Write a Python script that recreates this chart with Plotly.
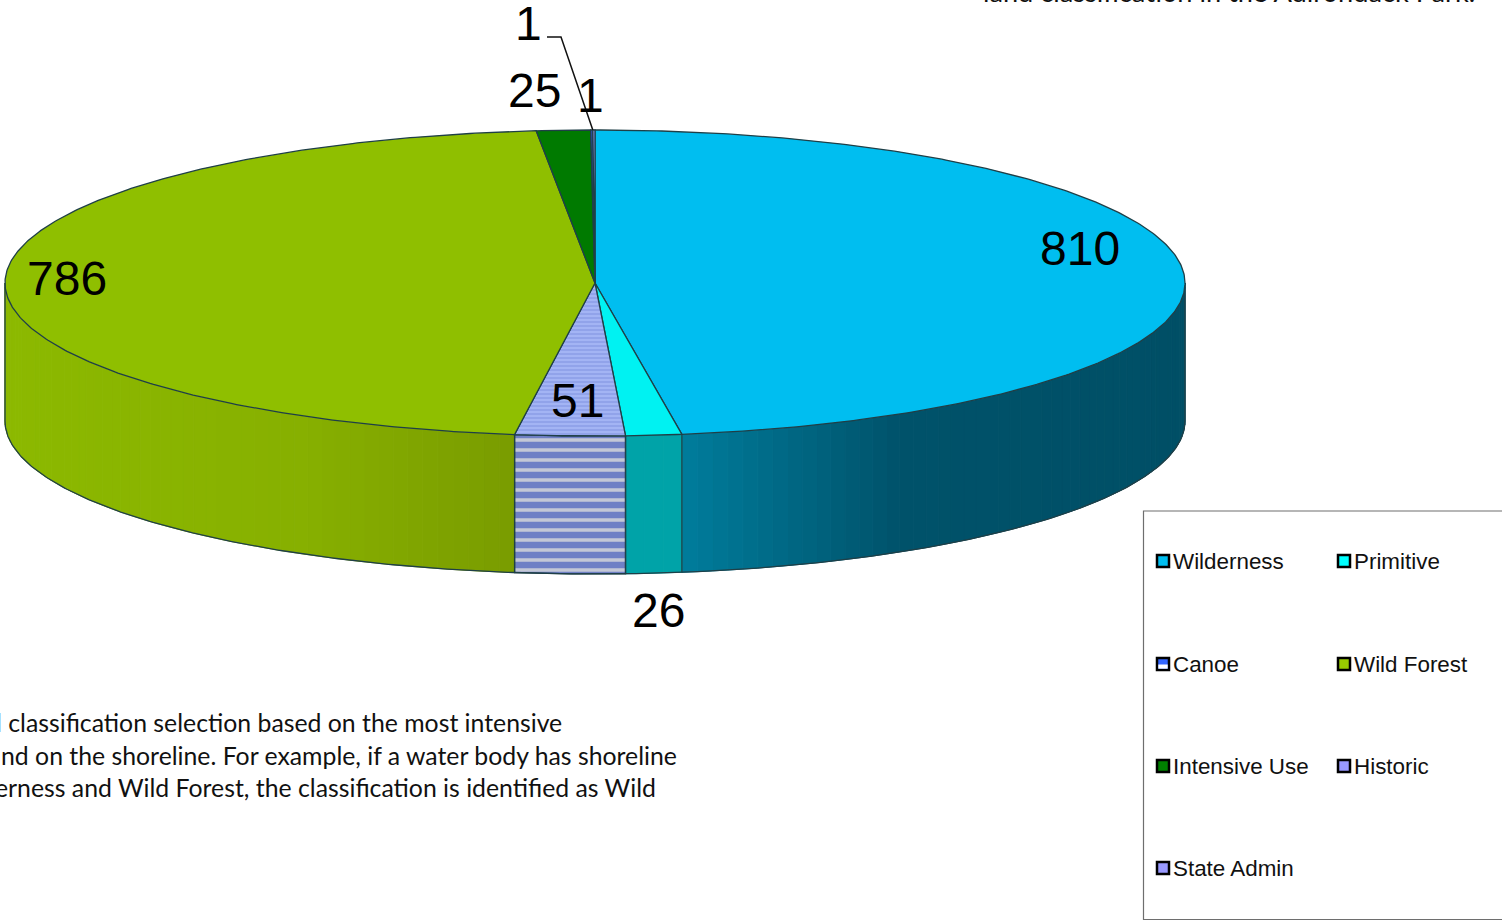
import math
import plotly.graph_objects as go

# ---- data ----
slices = ["Wilderness", "Primitive", "Historic", "Wild Forest", "Intensive Use", "Canoe", "State Admin"]
values = [810, 26, 51, 786, 25, 1, 1]
legend_order = ["Wilderness", "Primitive", "Canoe", "Wild Forest", "Intensive Use", "Historic", "State Admin"]
labels = ["810", "26", "51", "786", "25", "1", "1"]
top_text = "land classification in the Adirondack Park."
note_lines = [
    "l classification selection based on the most intensive",
    "nd on the shoreline. For example, if a water body has shoreline",
    "erness and Wild Forest, the classification is identified as Wild",
]

# ---- style / layout ----
W, H = 1502, 920
CX, CY, RX, RY, DEPTH = 595, 283, 590, 153, 138
EDGE = "#1f3f47"
top_col = {"Wilderness": "#00BEF0", "Primitive": "#00F2F2", "Historic": "#9DAEF0", "Wild Forest": "#8FBF00",
           "Intensive Use": "#007A00", "Canoe": "#3355CC", "State Admin": "#9999FF"}
swatch_col = {"Wilderness": "#00BEF0", "Primitive": "#00FFFF", "Canoe": "#3366FF", "Wild Forest": "#99CC00",
              "Intensive Use": "#008000", "Historic": "#9999FF", "State Admin": "#9999FF"}
side_stops = {"Wilderness": [(683, "#007C9C"), (900, "#00526A"), (1185, "#004F66")],
              "Primitive": [(626, "#00A3A8"), (683, "#00A3A8")],
              "Wild Forest": [(5, "#8CB900"), (300, "#87B000"), (515, "#7A9C00")]}
label_pos = {"810": (1080, 248.5), "786": (67, 278.5), "51": (577, 400.5), "26": (658, 610.5), "25": (534, 90.5)}
one_pos = [(528, 23), (590, 95.5)]
legend_pos = [(1156, 561), (1337, 561), (1156, 664), (1337, 664), (1156, 766), (1337, 766), (1156, 868)]
LABEL_FONT = "Liberation Sans"
BODY_FONT = "Lato"


def hex2rgb(h):
    return tuple(int(h[i:i + 2], 16) for i in (1, 3, 5))


def grad(stops, x):
    if x <= stops[0][0]:
        return stops[0][1]
    for (x0, c0), (x1, c1) in zip(stops, stops[1:]):
        if x <= x1:
            t = (x - x0) / (x1 - x0)
            a, b = hex2rgb(c0), hex2rgb(c1)
            return "#%02x%02x%02x" % tuple(round(p + (q - p) * t) for p, q in zip(a, b))
    return stops[-1][1]


def px(a):
    return CX + RX * math.sin(math.radians(a))


def py(a):
    return CY - RY * math.cos(math.radians(a))


def arc(a0, a1, step=0.5):
    n = max(1, int(abs(a1 - a0) / step))
    return [a0 + (a1 - a0) * i / n for i in range(n + 1)]


fig = go.Figure()


def poly(xs, ys, **kw):
    fig.add_trace(go.Scatter(x=xs, y=ys, mode="lines", fill="toself", showlegend=False, hoverinfo="skip", **kw))


total = sum(values)
angles = []
acc = 0
for v in values:
    angles.append((acc / total * 360, (acc + v) / total * 360))
    acc += v

# side walls (front half only)
for name, (a0, a1) in zip(slices, angles):
    s0, s1 = max(a0, 90), min(a1, 270)
    if s0 >= s1:
        continue
    if name == "Historic":
        arr = arc(s0, s1)
        xs = [px(a) for a in arr] + [px(a) for a in arr[::-1]] + [px(arr[0])]
        ys = [py(a) for a in arr] + [py(a) + DEPTH for a in arr[::-1]] + [py(arr[0])]
        poly(xs, ys, line=dict(color=EDGE, width=1.3), fillcolor="#C4C8D6",
             fillpattern=dict(shape="-", size=10, solidity=0.65, fgcolor="#1A38B4", bgcolor="#C4C8D6"))
        continue
    n = max(1, int((s1 - s0) / 1.5))
    for i in range(n):
        b0 = s0 + (s1 - s0) * i / n
        b1 = s0 + (s1 - s0) * (i + 1) / n
        arr = arc(b0, b1, 0.5)
        xs = [px(a) for a in arr] + [px(a) for a in arr[::-1]] + [px(arr[0])]
        ys = [py(a) for a in arr] + [py(a) + DEPTH for a in arr[::-1]] + [py(arr[0])]
        c = grad(side_stops[name], (px(b0) + px(b1)) / 2)
        poly(xs, ys, line=dict(color=c, width=1), fillcolor=c)

# side outline: silhouette and slice edges
arr = arc(90, 270)
edge_line = dict(color=EDGE, width=1.3)
fig.add_trace(go.Scatter(x=[px(a) for a in arr], y=[py(a) + DEPTH for a in arr], mode="lines",
                         line=edge_line, showlegend=False, hoverinfo="skip"))
for a in (90, 270):
    fig.add_trace(go.Scatter(x=[px(a), px(a)], y=[py(a), py(a) + DEPTH], mode="lines",
                             line=edge_line, showlegend=False, hoverinfo="skip"))
for a0, a1 in angles:
    if 90 < a1 < 270:
        fig.add_trace(go.Scatter(x=[px(a1), px(a1)], y=[py(a1), py(a1) + DEPTH], mode="lines",
                                 line=edge_line, showlegend=False, hoverinfo="skip"))

# top faces
for name, (a0, a1) in zip(slices, angles):
    arr = arc(a0, a1)
    xs = [CX] + [px(a) for a in arr] + [CX]
    ys = [CY] + [py(a) for a in arr] + [CY]
    kw = {}
    if name == "Historic":
        kw["fillpattern"] = dict(shape="-", size=4, solidity=0.35, fgcolor="#6F82D6", bgcolor="#A3B4F4")
    poly(xs, ys, line=edge_line, fillcolor=top_col[name], **kw)

# leader line for the outer "1"
fig.add_trace(go.Scatter(x=[547, 561, px(angles[-2][1])], y=[37, 37, py(angles[-2][1])], mode="lines",
                         line=dict(color="#111111", width=1.5), showlegend=False, hoverinfo="skip"))

ann = []
for k, (x, y) in label_pos.items():
    ann.append(dict(x=x, y=y, text=k, showarrow=False, font=dict(family=LABEL_FONT, size=48, color="#000000")))
for x, y in one_pos:
    ann.append(dict(x=x, y=y, text="1", showarrow=False, font=dict(family=LABEL_FONT, size=48, color="#000000")))

# legend box
shapes = [dict(type="rect", xref="x", yref="y", x0=1143.5, y0=511, x1=1560, y1=919.5,
               line=dict(color="#6e6e6e", width=1.2), fillcolor="rgba(0,0,0,0)")]
for name, (x, y) in zip(legend_order, legend_pos):
    shapes.append(dict(type="rect", xref="x", yref="y", x0=x + 1, y0=y - 6, x1=x + 13, y1=y + 6,
                       line=dict(color="#000000", width=2.5), fillcolor=swatch_col[name]))
    if name == "Canoe":
        shapes.append(dict(type="rect", xref="x", yref="y", x0=x + 2.3, y0=y + 0.5, x1=x + 11.7, y1=y + 4.7,
                           line=dict(width=0), fillcolor="#FFFFFF"))
    ann.append(dict(x=x + 15, y=y, text=name, xanchor="left", showarrow=False,
                    font=dict(family=LABEL_FONT, size=22.4, color="#111111")))

# cropped body text
ann.append(dict(x=1477, y=10, text=top_text, xanchor="right", yanchor="bottom", showarrow=False,
                font=dict(family=BODY_FONT, size=27.2, color="#111111")))
for line, xr, y in zip(note_lines, (564, 679, 658), (722, 755, 787)):
    ann.append(dict(x=xr, y=y, text=line, xanchor="right", showarrow=False,
                    font=dict(family=BODY_FONT, size=24.8, color="#111111")))

fig.update_layout(
    width=W, height=H, margin=dict(l=0, r=0, t=0, b=0), paper_bgcolor="white", plot_bgcolor="white",
    xaxis=dict(range=[0, W], visible=False, fixedrange=True),
    yaxis=dict(range=[H, 0], visible=False, fixedrange=True),
    annotations=ann, shapes=shapes, showlegend=False,
)
fig.write_html("out.html", config={"displayModeBar": False},
               post_script="document.body.style.margin='0';document.body.style.overflow='hidden';")
